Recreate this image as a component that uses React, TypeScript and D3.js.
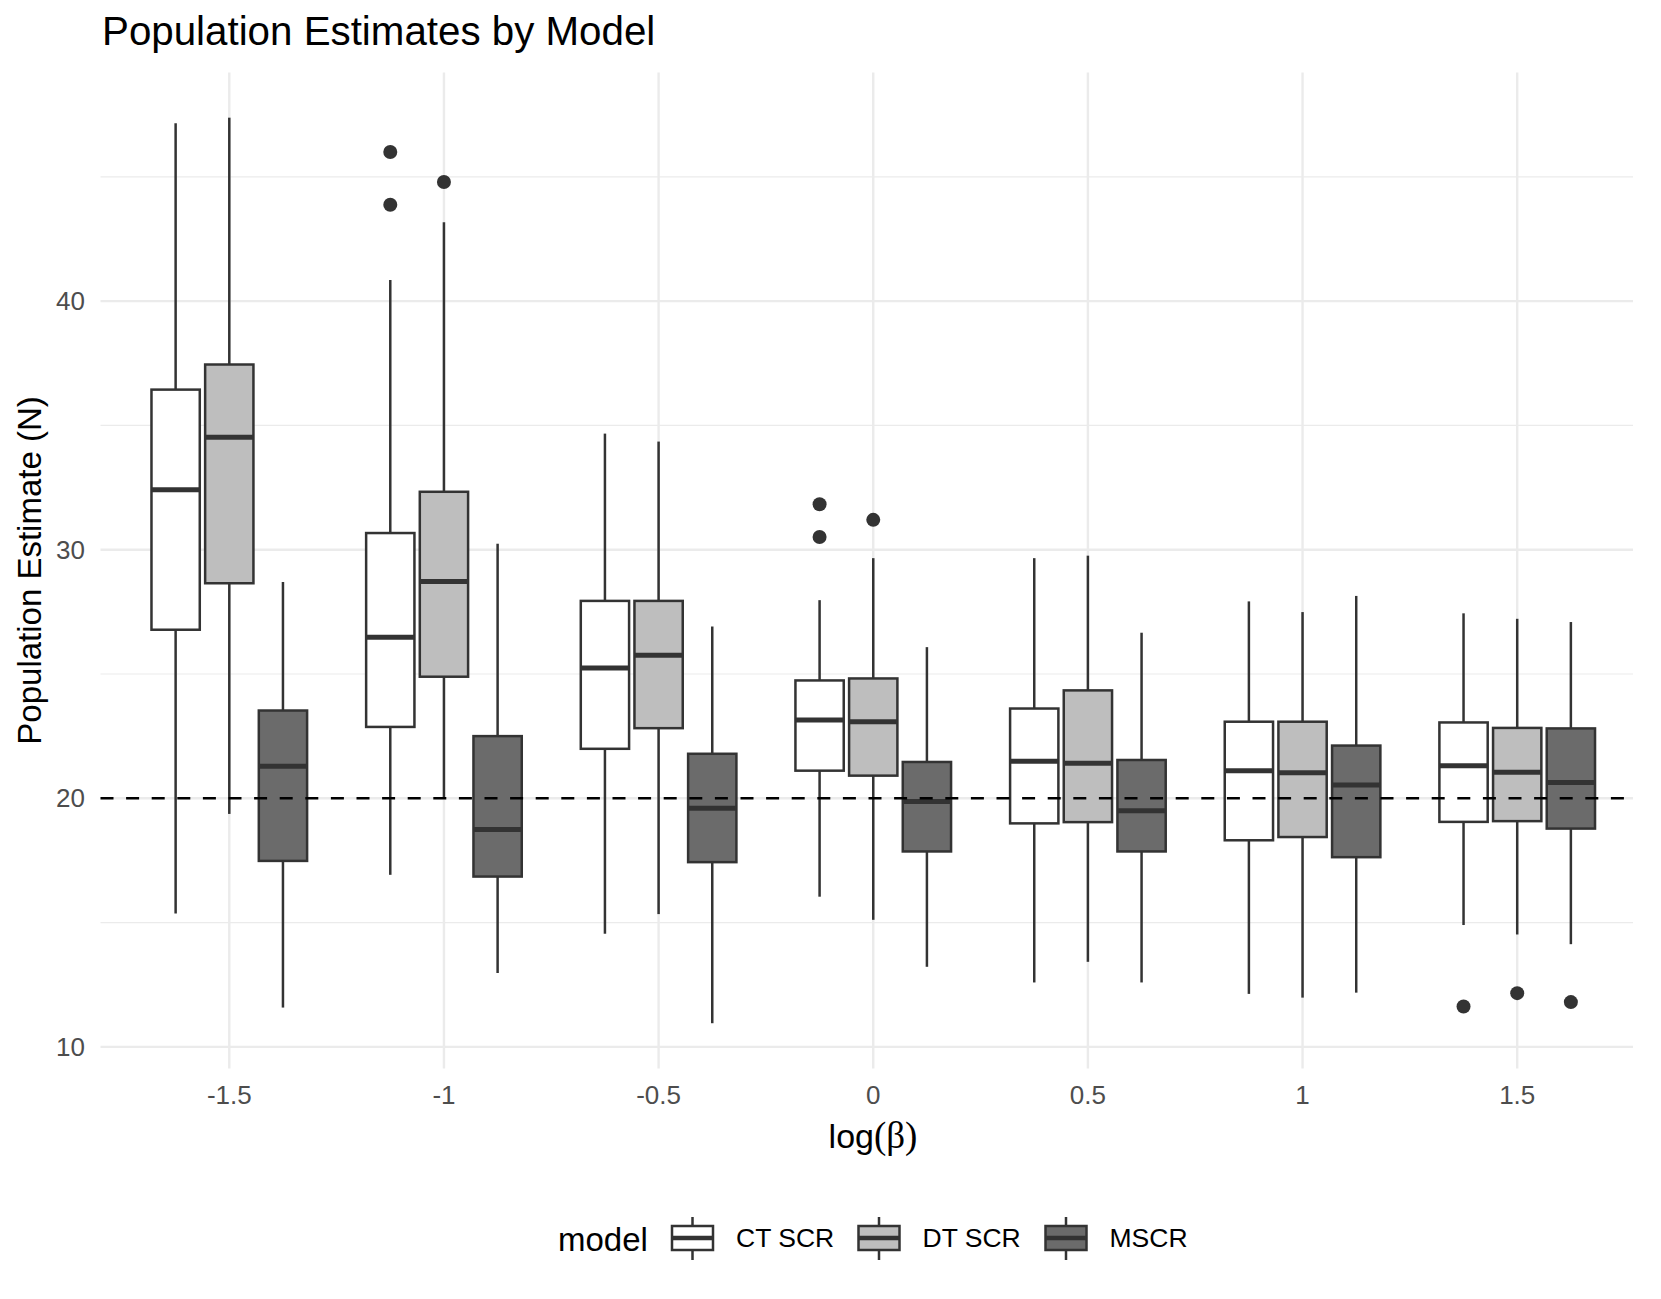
import React from 'react';
import { scaleLinear, extent } from 'd3';

// categories
const betaLevels = ['-1.5', '-1', '-0.5', '0', '0.5', '1', '1.5'];
const models = ['CT SCR', 'DT SCR', 'MSCR'];
const modelFills = ['#FFFFFF', '#BEBEBE', '#6B6B6B'];

// box stats per model, one value per beta level
const ctLow = [15.36, 16.92, 14.55, 16.04, 12.59, 12.13, 14.9];
const ctQ1 = [26.78, 22.87, 21.99, 21.11, 18.99, 18.31, 19.05];
const ctMed = [32.41, 26.48, 25.24, 23.15, 21.49, 21.11, 21.31];
const ctQ3 = [36.44, 30.67, 27.94, 24.74, 23.61, 23.08, 23.05];
const ctHigh = [47.16, 40.85, 34.67, 27.97, 29.66, 27.92, 27.44];

const dtLow = [19.37, 20.0, 15.34, 15.11, 13.42, 11.98, 14.52];
const dtQ1 = [28.65, 24.89, 22.82, 20.91, 19.04, 18.44, 19.08];
const dtMed = [34.52, 28.72, 25.75, 23.08, 21.41, 21.03, 21.05];
const dtQ3 = [37.45, 32.33, 27.94, 24.82, 24.34, 23.08, 22.83];
const dtHigh = [47.38, 43.17, 34.35, 29.66, 29.76, 27.49, 27.22];

const msLow = [11.58, 12.97, 10.95, 13.22, 12.59, 12.18, 14.13];
const msQ1 = [17.48, 16.85, 17.43, 17.86, 17.86, 17.63, 18.78];
const msMed = [21.29, 18.74, 19.6, 19.87, 19.5, 20.53, 20.63];
const msQ3 = [23.53, 22.5, 21.79, 21.46, 21.54, 22.12, 22.81];
const msHigh = [28.7, 30.24, 26.91, 26.08, 26.66, 28.14, 27.09];

// outliers: [beta level, value]
const ctOut: [string, number][] = [['-1', 46.0], ['-1', 43.88], ['0', 31.83], ['0', 30.51], ['1.5', 11.62]];
const dtOut: [string, number][] = [['-1', 44.79], ['0', 31.2], ['1.5', 12.16]];
const msOut: [string, number][] = [['1.5', 11.8]];

const yMajor = [10, 20, 30, 40];
const yMinor = [15, 25, 35, 45];
const trueN = 20;

const stats = [
  { low: ctLow, q1: ctQ1, med: ctMed, q3: ctQ3, high: ctHigh, out: ctOut },
  { low: dtLow, q1: dtQ1, med: dtMed, q3: dtQ3, high: dtHigh, out: dtOut },
  { low: msLow, q1: msQ1, med: msMed, q3: msQ3, high: msHigh, out: msOut },
];

const sans = '"Liberation Sans", Arial, Helvetica, sans-serif';
const serif = '"Liberation Serif", "DejaVu Serif", serif';
const lineCol = '#333333';

const App: React.FC = () => {
  const width = 1661;
  const height = 1299;
  const left = 100.5;
  const right = 1646;
  const gridRight = 1633;
  const top = 72.4;
  const bottom = 1068.5;

  const allVals = stats.flatMap(s => [...s.low, ...s.high, ...s.out.map(o => o[1])]);
  const [vmin, vmax] = extent(allVals) as [number, number];
  const pad = (vmax - vmin) * 0.05;

  const x = scaleLinear([-0.6, betaLevels.length - 0.4], [left, right]);
  const y = scaleLinear([vmin - pad, vmax + pad], [bottom, top]);
  const unit = x(1) - x(0);
  const boxW = unit * 0.225;
  const dodge = (j: number) => (j - 1) * 0.25;
  const lw = 2.5;

  return (
    <svg width={width} height={height} style={{ position: 'absolute', left: 0, top: 0, background: '#fff' }}
      fontFamily={sans}>
      <rect x={0} y={0} width={width} height={height} fill="#fff" />
      <text x={102} y={45} fontSize={40.3} fill="#000">Population Estimates by Model</text>

      {/* grid */}
      {yMinor.map(v => (
        <line key={'mn' + v} x1={left} x2={gridRight} y1={y(v)} y2={y(v)} stroke="#EBEBEB" strokeWidth={1.2} />
      ))}
      {yMajor.map(v => (
        <line key={'mj' + v} x1={left} x2={gridRight} y1={y(v)} y2={y(v)} stroke="#EBEBEB" strokeWidth={2.4} />
      ))}
      {betaLevels.map((b, i) => (
        <line key={'vx' + b} x1={x(i)} x2={x(i)} y1={top} y2={bottom} stroke="#EBEBEB" strokeWidth={2.4} />
      ))}

      {/* boxes */}
      {stats.map((s, j) =>
        betaLevels.map((b, i) => {
          const cx = x(i + dodge(j));
          return (
            <g key={models[j] + b}>
              <line x1={cx} x2={cx} y1={y(s.q3[i])} y2={y(s.high[i])} stroke={lineCol} strokeWidth={lw} />
              <line x1={cx} x2={cx} y1={y(s.q1[i])} y2={y(s.low[i])} stroke={lineCol} strokeWidth={lw} />
              <rect x={cx - boxW / 2} y={y(s.q3[i])} width={boxW} height={y(s.q1[i]) - y(s.q3[i])}
                fill={modelFills[j]} stroke={lineCol} strokeWidth={lw} />
              <line x1={cx - boxW / 2} x2={cx + boxW / 2} y1={y(s.med[i])} y2={y(s.med[i])} stroke={lineCol} strokeWidth={lw * 2} />
            </g>
          );
        })
      )}
      {stats.map((s, j) =>
        s.out.map((o, k) => (
          <circle key={models[j] + 'o' + k} cx={x(betaLevels.indexOf(o[0]) + dodge(j))} cy={y(o[1])} r={7} fill={lineCol} />
        ))
      )}

      {/* reference line */}
      <line x1={left} x2={gridRight} y1={y(trueN)} y2={y(trueN)} stroke="#000" strokeWidth={2.5} strokeDasharray="13 12.6" />

      {/* axes text */}
      {yMajor.map(v => (
        <text key={'yl' + v} x={85} y={y(v)} dy="0.35em" textAnchor="end" fontSize={26} fill="#4D4D4D">{v}</text>
      ))}
      {betaLevels.map((b, i) => (
        <text key={'xl' + b} x={x(i)} y={1104} textAnchor="middle" fontSize={26} fill="#4D4D4D">{b}</text>
      ))}
      <text x={873} y={1148} textAnchor="middle" fontSize={34} fill="#000">
        log<tspan fontFamily={serif} fontSize={37}>(β)</tspan>
      </text>
      <text transform={`translate(41,${(top + bottom) / 2}) rotate(-90)`} textAnchor="middle" fontSize={33} fill="#000">
        Population Estimate (N)
      </text>

      {/* legend */}
      <text x={558} y={1251} fontSize={33} fill="#000">model</text>
      {models.map((m, j) => {
        const kx = [672, 858.5, 1045.5][j];
        const kw = 41;
        const kc = kx + kw / 2;
        return (
          <g key={'lg' + m}>
            <line x1={kc} x2={kc} y1={1217} y2={1260} stroke={lineCol} strokeWidth={lw} />
            <rect x={kx} y={1226} width={kw} height={24} fill={modelFills[j]} stroke={lineCol} strokeWidth={lw} />
            <line x1={kx} x2={kx + kw} y1={1238} y2={1238} stroke={lineCol} strokeWidth={lw * 1.8} />
            <text x={kx + 64} y={1238} dy="0.35em" fontSize={26.5} fill="#000">{m}</text>
          </g>
        );
      })}
    </svg>
  );
};

export default App;
